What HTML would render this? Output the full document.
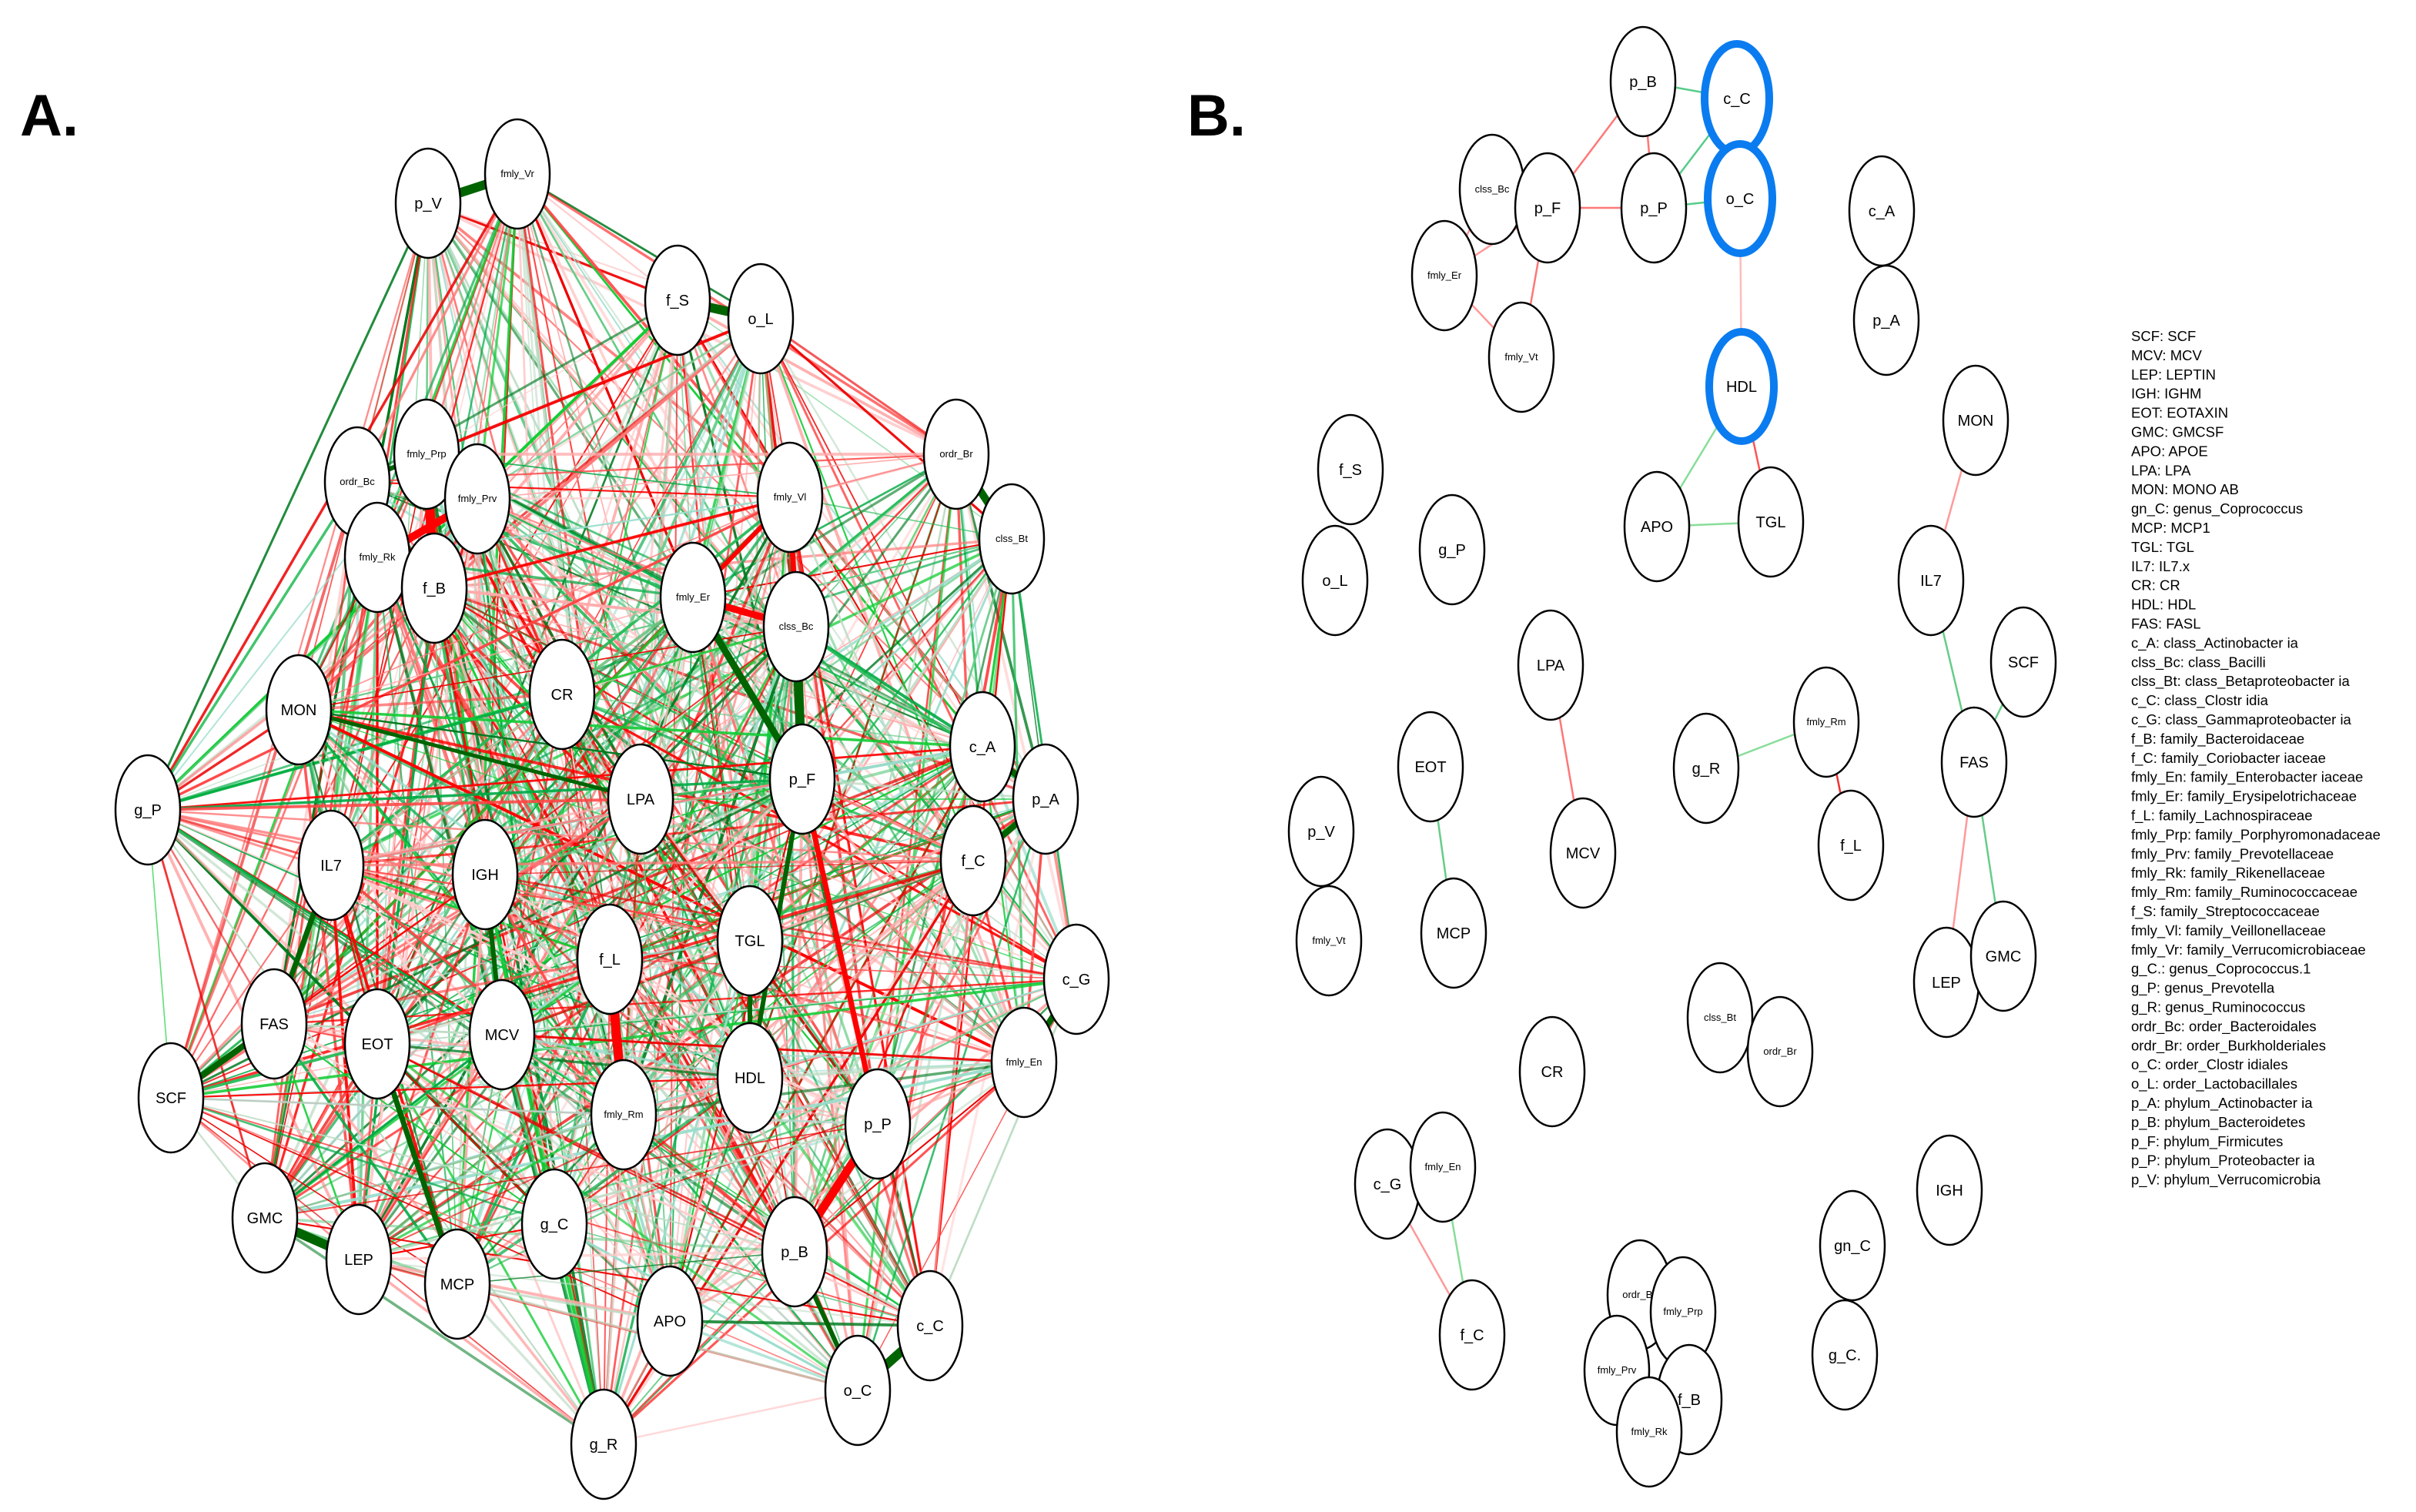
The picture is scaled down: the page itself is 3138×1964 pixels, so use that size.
<!DOCTYPE html>
<html><head><meta charset="utf-8">
<style>
html,body{margin:0;padding:0;background:#fff;}
svg{display:block;}
text{font-family:"Liberation Sans",sans-serif;}
</style></head>
<body>
<svg id="s" width="3138" height="1964" viewBox="0 0 3138 1964" xmlns="http://www.w3.org/2000/svg">
<rect width="3138" height="1964" fill="#fff"/>
<text x="26" y="176" font-size="76" font-weight="bold">A.</text>
<text x="1542" y="176" font-size="76" font-weight="bold">B.</text>
<g id="ea"></g><g id="eb"></g><g id="na"></g><g id="nb"></g>
<g id="leg" font-size="18.5"></g>
</svg>
<script>
var NS="http://www.w3.org/2000/svg";
function el(p,t,a,txt){var e=document.createElementNS(NS,t);for(var k in a)e.setAttribute(k,a[k]);if(txt!=null)e.textContent=txt;p.appendChild(e);return e;}
var A={p_V:[278,132],fmly_Vr:[336,113],f_S:[440,195],o_L:[494,207],ordr_Br:[621,295],clss_Bt:[657,350],ordr_Bc:[232,313],fmly_Prp:[277,295],fmly_Prv:[310,324],fmly_Rk:[245,362],f_B:[282,382],fmly_Vl:[513,323],fmly_Er:[450,388],clss_Bc:[517,407],CR:[365,451],MON:[194,461],c_A:[638,485],p_A:[679,519],g_P:[96,526],p_F:[521,506],LPA:[416,519],IL7:[215,562],IGH:[315,568],f_C:[632,559],c_G:[699,636],TGL:[487,611],f_L:[396,623],fmly_En:[665,690],FAS:[178,665],EOT:[245,678],MCV:[326,672],HDL:[487,700],fmly_Rm:[405,724],SCF:[111,713],p_P:[570,730],g_C:[360,795],GMC:[172,791],LEP:[233,818],MCP:[297,834],p_B:[516,813],APO:[435,858],c_C:[604,861],o_C:[557,903],g_R:[392,938]};
var B={p_B:[1067,53],c_C:[1128,64],clss_Bc:[969,123],p_F:[1005,135],p_P:[1074,135],o_C:[1130,129],fmly_Er:[938,179],fmly_Vt:[988,232],c_A:[1222,137],p_A:[1225,208],HDL:[1131,251],MON:[1283,273],APO:[1076,342],TGL:[1150,339],f_S:[877,305],o_L:[867,377],g_P:[943,357],IL7:[1254,377],SCF:[1314,430],LPA:[1007,432],fmly_Rm:[1186,469],g_R:[1108,499],FAS:[1282,495],EOT:[929,498],f_L:[1202,549],MCV:[1028,554],p_V:[858,540],fmly_Vt2:[863,611],MCP:[944,606],LEP:[1264,638],GMC:[1301,621],CR:[1008,696],clss_Bt:[1117,661],ordr_Br:[1156,683],c_G:[901,769],fmly_En:[937,758],IGH:[1266,773],gn_C:[1203,809],f_C:[956,867],ordr_Bc:[1065,841],fmly_Prp:[1093,852],"g_C.":[1198,880],fmly_Prv:[1050,890],f_B:[1097,909],fmly_Rk:[1071,930]};
var ea=document.getElementById('ea'),eb=document.getElementById('eb'),na=document.getElementById('na'),nb=document.getElementById('nb');
var seed=12345;function r(){seed=(seed*1103515245+12345)&0x7fffffff;return seed/0x7fffffff;}
var ka=Object.keys(A);
var reds=['#ff0000','#f44','#f77','#faa','#fcc','#e00'],greens=['#00aa44','#2b5','#6c8','#9dc','#bedcc5','#007a20','#1c3'];
for(var i=0;i<ka.length;i++)for(var j=i+1;j<ka.length;j++){
 if(r()<0.18)continue;
 var a=A[ka[i]],b=A[ka[j]];var red=r()<0.5;var pal=red?reds:greens;var c=pal[Math.floor(r()*pal.length)];
 var w=1.5+r()*2.5;el(ea,'line',{x1:a[0]*2,y1:a[1]*2,x2:b[0]*2,y2:b[1]*2,stroke:c,'stroke-width':w,'stroke-opacity':0.55+r()*0.45});
}
var heavy=[['p_V','fmly_Vr','#006400',12],['f_S','o_L','#006400',12],['ordr_Br','clss_Bt','#006400',10],['ordr_Bc','fmly_Prp','#006400',6],['ordr_Bc','f_B','#f00',12],['fmly_Prp','f_B','#f00',12],['fmly_Rk','fmly_Prv','#f00',10],['fmly_Prp','fmly_Prv','#f00',8],['fmly_Er','clss_Bc','#f00',9],['fmly_Vl','clss_Bc','#f00',7],['fmly_Vl','fmly_Er','#f00',6],['clss_Bc','p_F','#006400',12],['fmly_Er','p_F','#006400',9],['f_L','fmly_Rm','#f00',12],['p_F','p_P','#f00',7],['p_P','p_B','#f00',11],['c_C','o_C','#006400',12],['GMC','LEP','#006400',12],['FAS','SCF','#006400',8],['c_A','p_A','#006400',8],['f_C','p_A','#006400',8],['c_G','fmly_En','#006400',8],['IL7','FAS','#006400',7],['EOT','MCP','#006400',7],['p_F','HDL','#006400',6],['TGL','HDL','#006400',6],['IGH','MCV','#006400',6],['MON','LPA','#006400',5],['p_B','o_C','#006400',6]];
heavy.forEach(function(h){var a=A[h[0]],b=A[h[1]];el(ea,'line',{x1:a[0]*2,y1:a[1]*2,x2:b[0]*2,y2:b[1]*2,stroke:h[2],'stroke-width':h[3]});});
var eB=[['p_B','p_F','#f77'],['p_B','p_P','#f77'],['p_B','c_C','#5c8'],['p_P','c_C','#5c8'],['p_P','o_C','#5c8'],['p_F','p_P','#f77'],['clss_Bc','p_F','#5c8'],['clss_Bc','fmly_Er','#f99'],['p_F','fmly_Er','#f99'],['p_F','fmly_Vt','#f77'],['fmly_Er','fmly_Vt','#f99'],['o_C','HDL','#fbb'],['HDL','TGL','#f55'],['APO','TGL','#8d9'],['APO','HDL','#8d9'],['MON','IL7','#f99'],['IL7','FAS','#6c8'],['FAS','LEP','#f99'],['FAS','GMC','#6c8'],['SCF','FAS','#6c8'],['LPA','MCV','#f77'],['EOT','MCP','#6c8'],['g_R','fmly_Rm','#8d9'],['fmly_Rm','f_L','#e33'],['c_G','f_C','#f99'],['fmly_En','f_C','#8d9'],['clss_Bt','ordr_Br','#6c8'],['p_V','fmly_Vt2','#6c8'],['c_G','fmly_En','#6c8'],['ordr_Bc','fmly_Prp','#333'],['fmly_Prv','f_B','#333'],['ordr_Bc','fmly_Rk','#333'],['fmly_Prp','fmly_Prv','#333']];
eB.forEach(function(h){var a=B[h[0]],b=B[h[1]];el(eb,'line',{x1:a[0]*2,y1:a[1]*2,x2:b[0]*2,y2:b[1]*2,stroke:h[2],'stroke-width':2.5});});
function small(n){return n.indexOf('fmly')==0||n.indexOf('ordr')==0||n.indexOf('clss')==0;}
function node(g,n,p,blue){var label=n=='fmly_Vt2'?'fmly_Vt':n;
 el(g,'ellipse',{cx:p[0]*2,cy:p[1]*2,rx:42,ry:71,fill:'#fff',stroke:blue?'#0a7cf0':'#000','stroke-width':blue?10:2.5});
 el(g,'text',{x:p[0]*2,y:p[1]*2+(small(label)?4:7),'text-anchor':'middle','font-size':small(label)?13:20},label);}
for(var k in A)node(na,k,A[k],false);
for(var k in B)node(nb,k,B[k],k=='c_C'||k=='o_C'||k=='HDL');
var L=["SCF: SCF","MCV: MCV","LEP: LEPTIN","IGH: IGHM","EOT: EOTAXIN","GMC: GMCSF","APO: APOE","LPA: LPA","MON: MONO AB","gn_C: genus_Coprococcus","MCP: MCP1","TGL: TGL","IL7: IL7.x","CR: CR","HDL: HDL","FAS: FASL","c_A: class_Actinobacter ia","clss_Bc: class_Bacilli","clss_Bt: class_Betaproteobacter ia","c_C: class_Clostr idia","c_G: class_Gammaproteobacter ia","f_B: family_Bacteroidaceae","f_C: family_Coriobacter iaceae","fmly_En: family_Enterobacter iaceae","fmly_Er: family_Erysipelotrichaceae","f_L: family_Lachnospiraceae","fmly_Prp: family_Porphyromonadaceae","fmly_Prv: family_Prevotellaceae","fmly_Rk: family_Rikenellaceae","fmly_Rm: family_Ruminococcaceae","f_S: family_Streptococcaceae","fmly_Vl: family_Veillonellaceae","fmly_Vr: family_Verrucomicrobiaceae","g_C.: genus_Coprococcus.1","g_P: genus_Prevotella","g_R: genus_Ruminococcus","ordr_Bc: order_Bacteroidales","ordr_Br: order_Burkholderiales","o_C: order_Clostr idiales","o_L: order_Lactobacillales","p_A: phylum_Actinobacter ia","p_B: phylum_Bacteroidetes","p_F: phylum_Firmicutes","p_P: phylum_Proteobacter ia","p_V: phylum_Verrucomicrobia"];
var lg=document.getElementById('leg');
L.forEach(function(t,i){el(lg,'text',{x:2768,y:443+i*24.9},t);});
</script>
</body></html>
